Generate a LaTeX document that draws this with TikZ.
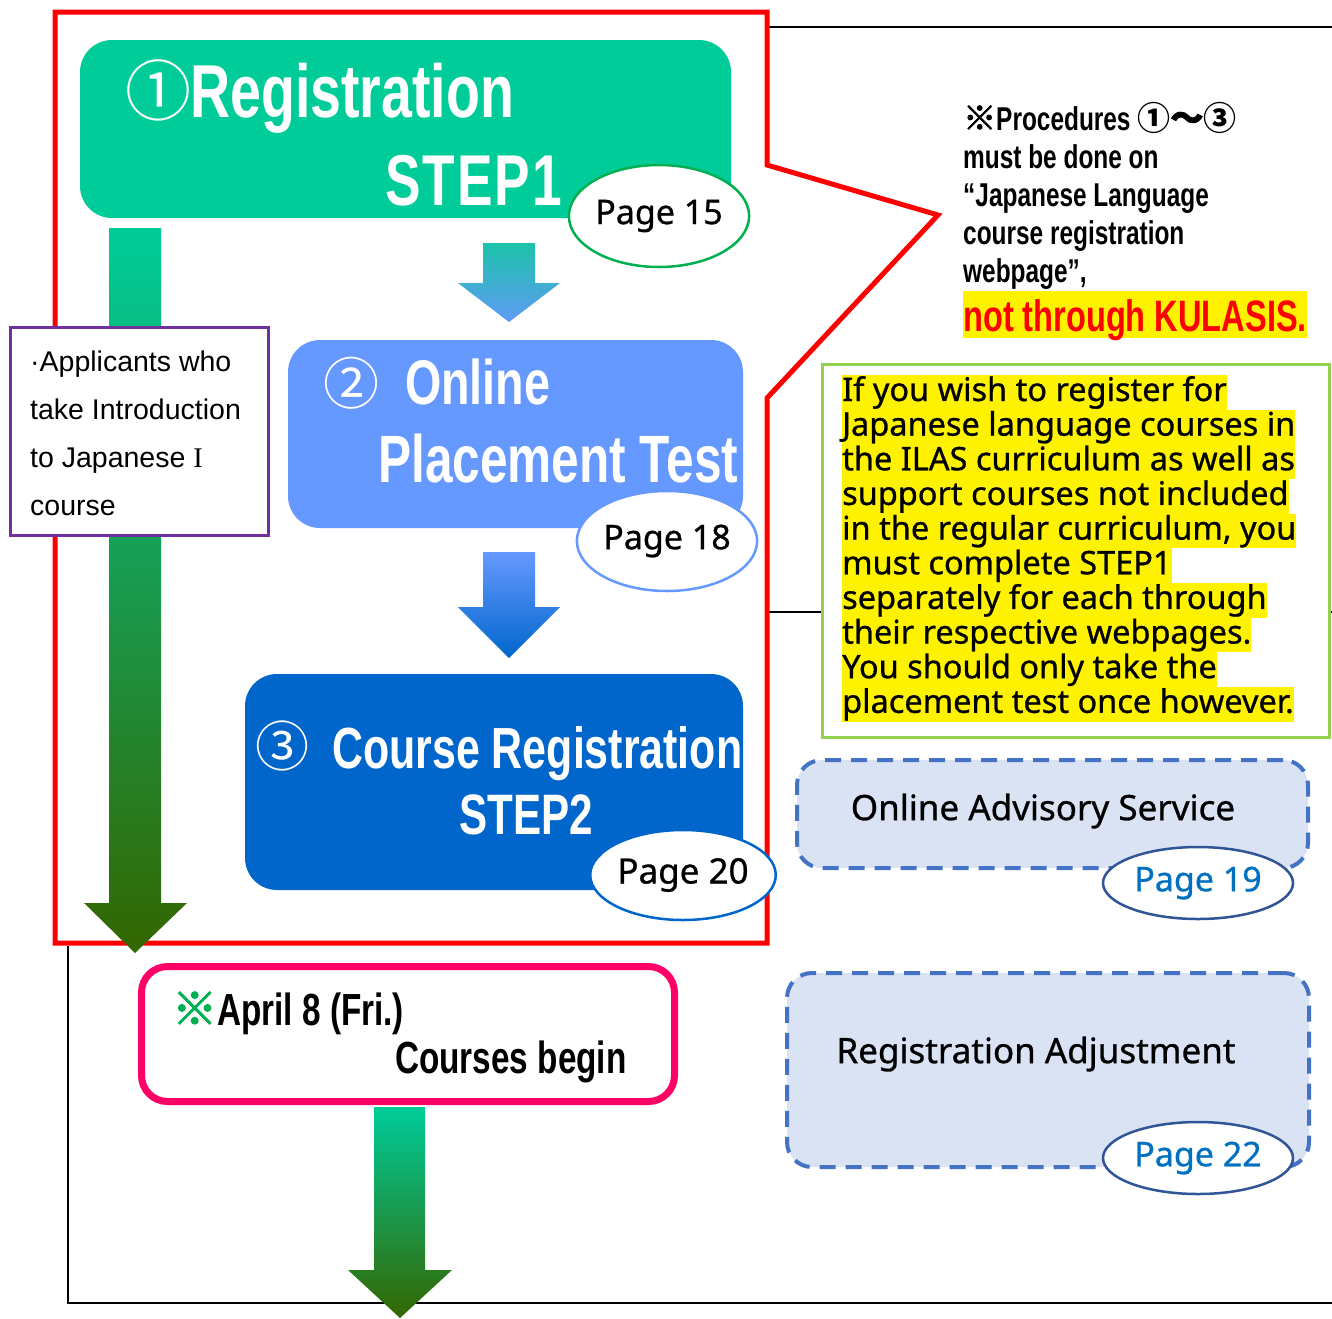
\documentclass[tikz,border=0pt]{standalone}
\usepackage{fontspec}
\setmainfont{Liberation Sans}
\newfontfamily\condf[FakeStretch=0.74]{Liberation Sans}
\newfontfamily\meir[FakeBold=0.8]{Noto Sans}
\newfontfamily\cjk{Noto Sans CJK JP}
\newfontfamily\cjkb[FakeBold=2.5]{Noto Sans CJK JP}
\newfontfamily\serifI{Liberation Serif}
\usetikzlibrary{shapes.geometric}
\definecolor{cA}{HTML}{00CC99}
\definecolor{cB}{HTML}{6699FF}
\definecolor{cC}{HTML}{0066CC}
\definecolor{dgreen}{HTML}{336600}
\definecolor{pinkc}{HTML}{FF0066}
\definecolor{purp}{HTML}{7030A0}
\definecolor{lgreen}{HTML}{92D050}
\definecolor{dashfill}{HTML}{DAE3F3}
\definecolor{dashblue}{HTML}{4472C4}
\definecolor{ellblue}{HTML}{2F5597}
\definecolor{txtblue}{HTML}{0070C0}
\definecolor{okgreen}{HTML}{00B050}
\definecolor{arrtop}{HTML}{1CC3AA}
\definecolor{arrmid}{HTML}{5F9BF5}
\begin{document}
\begin{tikzpicture}[x=1pt,y=-1pt,
  rbox/.style={rectangle, rounded corners=32, inner sep=0, draw=none},
  pg/.style={ellipse, draw, fill=white, line width=2.5, inner sep=0, font=\meir\fontsize{34}{34}\selectfont},
  ttl/.style={inner sep=0, anchor=base west, text=white},
  dig/.style={inner sep=0, text=white},
  note/.style={inner sep=0, anchor=base west, font=\condf\bfseries\fontsize{33}{33}\selectfont},
  hl/.style={fill=yellow, anchor=base west, inner sep=0, text height=26, text depth=8.65, font=\meir\fontsize{32.5}{32.5}\selectfont},
  pur/.style={inner sep=0, anchor=base west, font=\fontsize{28.5}{28.5}\selectfont},
  dbox/.style={rectangle, rounded corners=25, draw=dashblue, fill=dashfill, line width=4, dash pattern=on 16pt off 10pt, inner sep=0},
  ]
\useasboundingbox (0,0) rectangle (1332,1318);
\fill[white] (0,0) rectangle (1332,1318);
% frame lines
\draw[line width=2] (767,27) -- (1332,27);
\draw[line width=1.5] (767,612) -- (1332,612);
\draw[line width=2] (68,946) -- (68,1303) -- (1332,1303);
% red outline
\draw[red, line width=5, line join=miter] (55,12) -- (767,12) -- (767,165) -- (938,215) -- (767,398) -- (767,943) -- (55,943) -- cycle;
% left long arrow
\shade[top color=cA, bottom color=dgreen] (109,228) -- (161,228) -- (161,903) -- (187,903) -- (135,953) -- (84,903) -- (109,903) -- cycle;
% box 1
\node[rbox, fill=cA, minimum width=651, minimum height=178] (b1) at (405.5,129) {};
\node[dig, font=\cjk\fontsize{66}{66}\selectfont] (d1) at (158,90) {①};
\node[ttl, font=\condf\bfseries\fontsize{75}{75}\selectfont] (t1) at (190,117) {Registration};
\node[ttl, font=\condf\bfseries\fontsize{72}{72}\selectfont] (t1b) at (385,205) {S\kern2pt T\kern2pt E\kern2pt P\kern2pt 1};
\node[pg, draw=okgreen, minimum width=164, minimum height=102] (p15) at (659,216) {Page 15};
% arrow 1
\shade[top color=arrtop, bottom color=arrmid] (483,243) -- (535,243) -- (535,283) -- (560,283) -- (509,322) -- (458,283) -- (483,283) -- cycle;
% purple box
\node[rectangle, draw=purp, fill=white, line width=3.5, minimum width=258, minimum height=208, inner sep=0] (pb) at (139.5,431.5) {};
\node[pur] (pl1) at (30,371) {·Applicants who};
\node[pur] (pl2) at (30,419) {take Introduction};
\node[pur] (pl3) at (30,467) {to Japanese {\serifI I}};
\node[pur] (pl4) at (30,515) {course};
% box 2
\node[rbox, fill=cB, minimum width=455, minimum height=188] (b2) at (515.5,434) {};
\node[dig, font=\cjk\fontsize{56}{56}\selectfont] (d2) at (351,383) {②};
\node[ttl, font=\condf\bfseries\fontsize{63}{63}\selectfont] (t2) at (405,404) {Online};
\node[ttl, font=\condf\bfseries\fontsize{67}{67}\selectfont] (t2b) at (378,482) {Placement Test};
\node[pg, draw=cB, minimum width=164, minimum height=100] (p18) at (667,541) {Page 18};
% arrow 2
\shade[top color=cB, bottom color=cC] (483,552) -- (535,552) -- (535,607) -- (560,607) -- (509,658) -- (458,607) -- (483,607) -- cycle;
% box 3
\node[rbox, fill=cC, minimum width=498, minimum height=216] (b3) at (494,782) {};
\node[dig, font=\cjk\fontsize{54}{54}\selectfont] (d3) at (282,746) {③};
\node[ttl, font=\condf\bfseries\fontsize{58}{58}\selectfont] (t3) at (332,768) {Course Registration};
\node[ttl, font=\condf\bfseries\fontsize{57}{57}\selectfont] (t3b) at (459,834) {STEP2};
\node[pg, draw=cC, minimum width=156, minimum height=90] (p20) at (683,875) {\fontsize{35}{35}\selectfont Page 20};
% right note
\node[note] (n1) at (963,130) {{\cjkb ※}Procedures {\cjk ①}{\cjkb ～}{\cjk ③}};
\node[note] (n2) at (963,168) {must be done on};
\node[note] (n3) at (963,206) {“Japanese Language};
\node[note] (n4) at (963,244) {course registration};
\node[note] (n5) at (963,282) {webpage”,};
\node[fill=yellow, text=red, anchor=base west, inner sep=0, text height=40, text depth=7, font=\condf\bfseries\fontsize{44}{44}\selectfont] (n6) at (963,331) {not through KULASIS.};
% green note
\node[rectangle, draw=lgreen, fill=white, line width=3, minimum width=507, minimum height=373, inner sep=0] (gn) at (1075.5,550.5) {};
\node[hl] (g1) at (842,401) {If you wish to register for~};
\node[hl] (g2) at (842,435.65) {Japanese language courses in~};
\node[hl] (g3) at (842,470.3) {the ILAS curriculum as well as~};
\node[hl] (g4) at (842,504.95) {support courses not included~};
\node[hl] (g5) at (842,539.6) {in the regular curriculum, you~};
\node[hl] (g6) at (842,574.25) {must complete STEP1~};
\node[hl] (g7) at (842,608.9) {separately for each through~};
\node[hl] (g8) at (842,643.55) {their respective webpages.~};
\node[hl] (g9) at (842,678.2) {You should only take the~};
\node[hl] (g10) at (842,712.85) {placement test once however.};
% dashed boxes
\node[dbox, minimum width=511, minimum height=108] (oa) at (1052.5,814) {};
\node[font=\meir\fontsize{35}{35}\selectfont, inner sep=0] (oat) at (1043,811) {Online Advisory Service};
\node[pg, draw=ellblue, text=txtblue, minimum width=190, minimum height=72] (p19) at (1198,883) {Page 19};
\node[dbox, minimum width=522, minimum height=194] (ra) at (1048,1070) {};
\node[font=\meir\fontsize{35}{35}\selectfont, inner sep=0] (rat) at (1036,1054) {Registration Adjustment};
\node[pg, draw=ellblue, text=txtblue, minimum width=190, minimum height=72] (p22) at (1198,1158) {Page 22};
% pink box
\node[rectangle, rounded corners=26, draw=pinkc, fill=white, line width=7, minimum width=533, minimum height=135, inner sep=0] (pk) at (408,1034) {};
\node[inner sep=0, anchor=base west, font=\condf\bfseries\fontsize{45}{45}\selectfont] (pk1) at (172,1025) {{\cjkb\color{okgreen}※}April 8 (Fri.)};
\node[inner sep=0, anchor=base west, font=\condf\bfseries\fontsize{45}{45}\selectfont] (pk2) at (395,1073) {Courses begin};
% bottom arrow
\shade[top color=cA, bottom color=dgreen] (374,1107) -- (425,1107) -- (425,1270) -- (452,1270) -- (400,1318) -- (348,1270) -- (374,1270) -- cycle;
\end{tikzpicture}
\end{document}
